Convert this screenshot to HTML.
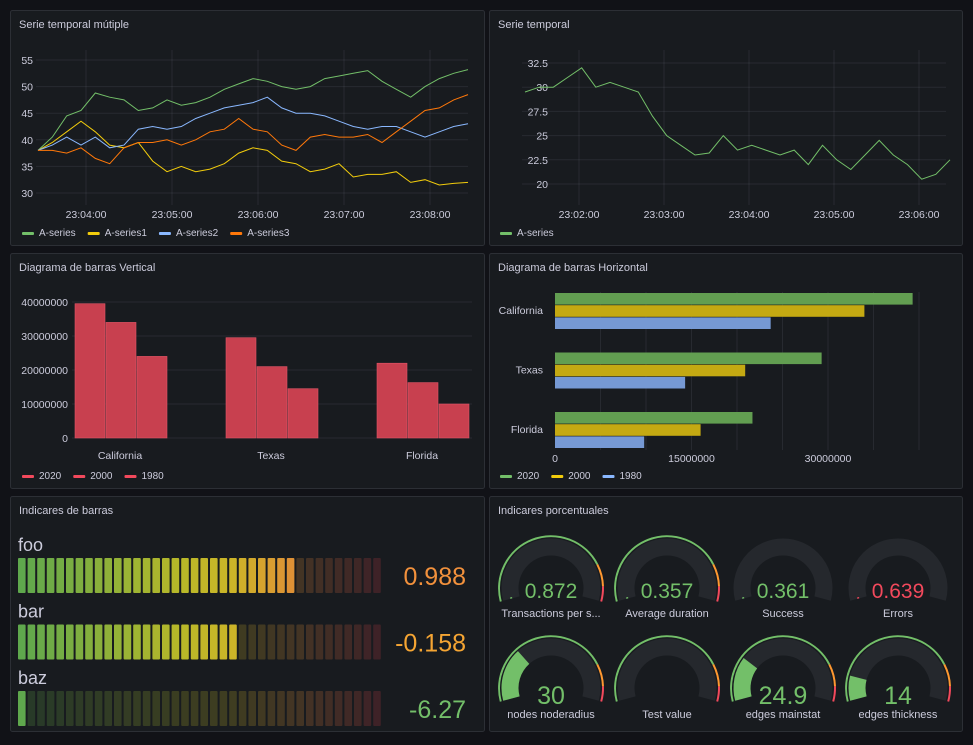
<!DOCTYPE html>
<html><head><meta charset="utf-8"><style>
html,body{margin:0;padding:0;background:#111217;}
svg{display:block;font-family:"Liberation Sans",sans-serif;}
</style></head><body>
<svg id="s" width="973" height="745" viewBox="0 0 973 745"></svg>
<script>
// ---- data ----
const tsTimes = [0,10,20,30,40,50,60,70,80,90,100,110,120,130,140,150,160,170,180,190,200,210,220,230,240,250,260,270,280,290,300];
const seriesA = [38,40.5,44.5,45.5,48.8,48,47.5,45.5,46,47.5,46.5,47,48,49.5,50.5,51.5,51,50,49.5,50,51.5,52,52.5,53,51,49.5,48,50,51.5,52.5,53.2];
const seriesA1 = [38,39.5,41.5,43.5,41.5,39,38.5,39.5,36,34,35,34,34.5,35.5,37.5,38.5,38,36,35.5,34,34.5,35.5,33,33.5,33.5,34,32,32.5,31.5,31.8,32];
const seriesA2 = [38,39,40.5,39,40.5,38.5,39,42,42.5,42,42.5,44,45,46,46.5,47,48,46,45,45,44.5,43.5,42.5,42,42.5,42.5,41.5,40.5,41.5,42.5,43];
const seriesA3 = [38,38,37.5,38.5,36.5,35.5,38.5,39.5,39.5,40,39,40,41.5,42,44,42,41.5,39,38,40.5,41,40.5,40.5,41,39.5,41.5,43.5,45.5,46,47.5,48.5];
const tsYTicks = [30,35,40,45,50,55];
const tsXTicks = ["23:04:00","23:05:00","23:06:00","23:07:00","23:08:00"];
const st2Values = [29.5,30,30,31,32,30,30.5,30,29.5,27,25,24,23,23.2,25,23.5,24,23.5,23,23.5,22,24,22.5,21.5,23,24.5,23,22,20.5,21,22.5];
const st2YTicks = [20,22.5,25,27.5,30,32.5];
const st2XTicks = ["23:02:00","23:03:00","23:04:00","23:05:00","23:06:00"];
const barCats = ["California","Texas","Florida"];
const bars2020 = [39.5e6,29.5e6,22e6];
const bars2000 = [34e6,21e6,16.3e6];
const bars1980 = [24e6,14.5e6,10e6];
const vbTicks = [0,10000000,20000000,30000000,40000000];
const hb2020 = [39.3e6,29.3e6,21.7e6];
const hb2000 = [34e6,20.9e6,16e6];
const hb1980 = [23.7e6,14.3e6,9.8e6];
const hbTicks = [0,15000000,30000000];
const bgNames = ["foo","bar","baz"];
const bgValues = [0.988,-0.158,-6.27];
const bgLabels = ["0.988","-0.158","-6.27"];
const gNames = ["Transactions per s...","Average duration","Success","Errors","nodes noderadius","Test value","edges mainstat","edges thickness"];
const gValues = [0.872,0.357,0.361,0.639,30,0,24.9,14];
const gLabels = ["0.872","0.357","0.361","0.639","30","","24.9","14"];

const S = document.getElementById('s');
const NS = 'http://www.w3.org/2000/svg';
function mk(tag, attrs, parent, text){
  const e = document.createElementNS(NS, tag);
  for (const k in attrs) e.setAttribute(k, attrs[k]);
  if (text !== undefined) e.textContent = text;
  (parent || S).appendChild(e);
  return e;
}
const TXT = '#ccccdc', GRID = 'rgba(204,204,220,0.09)';

// panels
const panels = [
  [10,10,475,236,'Serie temporal mútiple','panel-multi-timeseries'],
  [489,10,474,236,'Serie temporal','panel-timeseries'],
  [10,253,475,236,'Diagrama de barras Vertical','panel-vertical-bars'],
  [489,253,474,236,'Diagrama de barras Horizontal','panel-horizontal-bars'],
  [10,496,475,236,'Indicares de barras','panel-bar-gauges'],
  [489,496,474,236,'Indicares porcentuales','panel-gauges']];
panels.forEach(p=>{
  const r = mk('rect',{x:p[0]+0.5,y:p[1]+0.5,width:p[2]-1,height:p[3]-1,rx:2,fill:'#181b1f',stroke:'#2c2f35'});
  
  
  const t = mk('text',{x:p[0]+9,y:p[1]+18,fill:TXT,'font-size':11,'font-weight':500},S,p[4]);
  
  
});

function legend(x, y, items){
  let cx = x;
  items.forEach(it=>{
    const g = mk('g',{});
    
    
    mk('rect',{x:cx,y:y-4,width:12,height:3,rx:1,fill:it[1]},g);
    const t = mk('text',{x:cx+17,y:y,fill:TXT,'font-size':10},g,it[0]);
    cx += 17 + t.getComputedTextLength() + 12;
  });
}

// ---- panel 1: multi time series ----
(function(){
  const x0=38, pxPerSec=86/60, xs = t=>x0+t*pxPerSec;
  const ys = v=>193-(v-30)*5.32;
  tsYTicks.forEach(v=>{
    mk('line',{x1:36,x2:468,y1:ys(v),y2:ys(v),stroke:GRID});
    const t=mk('text',{x:33,y:ys(v)+4,fill:TXT,'font-size':10.5,'text-anchor':'end'},S,String(v));
    
    
  });
  tsXTicks.forEach((l,i)=>{
    const x = 86+i*86;
    mk('line',{x1:x,x2:x,y1:50,y2:205,stroke:GRID});
    const t=mk('text',{x:x,y:218,fill:TXT,'font-size':10.5,'text-anchor':'middle'},S,l);
    
    
  });
  const ser = [[seriesA,'#73bf69','a-series'],[seriesA1,'#f2cc0c','a-series1'],[seriesA2,'#8ab8ff','a-series2'],[seriesA3,'#ff780a','a-series3']];
  ser.forEach(s=>{
    const d = s[0].map((v,i)=>(i?'L':'M')+xs(tsTimes[i]).toFixed(1)+','+ys(v).toFixed(1)).join('');
    const p=mk('path',{d:d,fill:'none',stroke:s[1],'stroke-width':1});
    
    
  });
  legend(22,236,[['A-series','#73bf69'],['A-series1','#f2cc0c'],['A-series2','#8ab8ff'],['A-series3','#ff780a']]);
})();

// ---- panel 2: single time series ----
(function(){
  const xs = t=>525+t*85/60;
  const ys = v=>184-(v-20)*9.68;
  st2YTicks.forEach(v=>{
    mk('line',{x1:522,x2:946,y1:ys(v),y2:ys(v),stroke:GRID});
    const t=mk('text',{x:548,y:ys(v)+4,fill:TXT,'font-size':10.5,'text-anchor':'end'},S,String(v));
    
    
  });
  st2XTicks.forEach((l,i)=>{
    const x = 579+i*85;
    mk('line',{x1:x,x2:x,y1:50,y2:205,stroke:GRID});
    const t=mk('text',{x:x,y:218,fill:TXT,'font-size':10.5,'text-anchor':'middle'},S,l);
    
    
  });
  const d = st2Values.map((v,i)=>(i?'L':'M')+xs(tsTimes[i]).toFixed(1)+','+ys(v).toFixed(1)).join('');
  const p=mk('path',{d:d,fill:'none',stroke:'#73bf69','stroke-width':1});
  
  
  legend(500,236,[['A-series','#73bf69']]);
})();

// ---- panel 3: vertical bars ----
(function(){
  const ys = v=>438-v/1e6*3.4;
  vbTicks.forEach(v=>{
    mk('line',{x1:72,x2:472,y1:ys(v),y2:ys(v),stroke:GRID});
    const t=mk('text',{x:68,y:ys(v)+4,fill:TXT,'font-size':10.5,'text-anchor':'end'},S,String(v));
    
    
  });
  const series=[bars2020,bars2000,bars1980];
  barCats.forEach((c,i)=>{
    const cx = 120+i*151;
    series.forEach((s,j)=>{
      const x = cx-45+j*31;
      const r=mk('rect',{x:x,y:ys(s[i]),width:30,height:ys(0)-ys(s[i]),fill:'#c8404f',stroke:'#e05567','stroke-width':0.6});
      
      
    });
    const t=mk('text',{x:cx,y:459,fill:TXT,'font-size':10.5,'text-anchor':'middle'},S,c);
    
    
  });
  legend(22,479,[['2020','#f2495c'],['2000','#f2495c'],['1980','#f2495c']]);
})();

// ---- panel 4: horizontal bars ----
(function(){
  const xs = v=>555+v/1e6*9.1;
  for(let v=5e6; v<=40e6; v+=5e6) mk('line',{x1:xs(v),x2:xs(v),y1:292,y2:450,stroke:GRID});
  hbTicks.forEach(v=>{
    const t=mk('text',{x:xs(v),y:462,fill:TXT,'font-size':10.5,'text-anchor':'middle'},S,String(v));
    
    
  });
  const series=[[hb2020,'#629e51'],[hb2000,'#c4a912'],[hb1980,'#7699d4']];
  barCats.forEach((c,i)=>{
    const gy = 293+i*59.5;
    series.forEach((s,j)=>{
      const r=mk('rect',{x:555,y:gy+j*12.2,width:xs(s[0][i])-555,height:11.6,fill:s[1]});
      
      
    });
    const t=mk('text',{x:543,y:gy+21,fill:TXT,'font-size':10.5,'text-anchor':'end'},S,c);
    
    
  });
  legend(500,479,[['2020','#73bf69'],['2000','#f2cc0c'],['1980','#8ab8ff']]);
})();

// ---- panel 5: bar gauges ----
(function(){
  const N=38, bgMin=-4.55, bgMax=2.7;
  const stops=[[0,[95,168,77]],[0.45,[184,184,40]],[0.6,[205,180,40]],[0.78,[225,140,55]],[1,[200,60,70]]];
  function col(f){
    for(let i=1;i<stops.length;i++) if(f<=stops[i][0]){
      const a=stops[i-1],b=stops[i],t=(f-a[0])/(b[0]-a[0]);
      return a[1].map((c,k)=>Math.round(c+(b[1][k]-c)*t));
    }
    return stops[stops.length-1][1];
  }
  const valCol=['#f2913c','#f5a533','#73bf69'];
  bgNames.forEach((n,r)=>{
    const top = 558+r*66.5;
    const t=mk('text',{x:18,y:top-7,fill:TXT,'font-size':18},S,n);
    
    
    let lit = Math.round((bgValues[r]-bgMin)/(bgMax-bgMin)*N);
    lit = Math.max(1,Math.min(N,lit));
    for(let i=0;i<N;i++){
      const c=col(i/(N-1));
      const on=i<lit;
      const fill = on ? 'rgb('+c.join(',')+')' : 'rgba('+c.join(',')+',0.22)';
      const cell=mk('rect',{x:18+i*9.6,y:top,width:7.6,height:35,rx:1,fill:fill});
      
      
    }
    const v=mk('text',{x:466,y:top+27,fill:valCol[r],'font-size':25,'text-anchor':'end'},S,bgLabels[r]);
    
    
  });
})();

// ---- panel 6: gauges ----
(function(){
  const START=195, SWEEP=210; // degrees, measured clockwise from +x in screen coords reversed
  function pt(cx,cy,r,a){const rad=a*Math.PI/180;return [cx+r*Math.cos(rad),cy-r*Math.sin(rad)];}
  function arc(cx,cy,r,a1,a2){ // a1 > a2, clockwise on screen
    const p1=pt(cx,cy,r,a1),p2=pt(cx,cy,r,a2);
    const large=(a1-a2)>180?1:0;
    return 'M'+p1[0].toFixed(1)+','+p1[1].toFixed(1)+'A'+r+','+r+' 0 '+large+' 1 '+p2[0].toFixed(1)+','+p2[1].toFixed(1);
  }
  const centersX=[551,667,783,898];
  const thresh=[true,true,false,false,true,true,true,true];
  gNames.forEach((n,i)=>{
    const cx=centersX[i%4], cy = i<4?588:688;
    const g=mk('g',{});
    
    
    const aStart=START, aEnd=START-SWEEP;
    mk('path',{d:arc(cx,cy,41,aStart,aEnd),fill:'none',stroke:'#25282d','stroke-width':17},g);
    if(thresh[i]){
      const aO=START-SWEEP*0.8, aR=START-SWEEP*0.92;
      mk('path',{d:arc(cx,cy,52,aStart,aO),fill:'none',stroke:'#73bf69','stroke-width':2},g);
      mk('path',{d:arc(cx,cy,52,aO,aR),fill:'none',stroke:'#ff9830','stroke-width':2},g);
      mk('path',{d:arc(cx,cy,52,aR,aEnd),fill:'none',stroke:'#f2495c','stroke-width':2},g);
    }
    const frac=Math.max(0,Math.min(1,gValues[i]/100));
    const color = i===3?'#f2495c':'#73bf69';
    if(gLabels[i]!==''){
      const aV=START-SWEEP*Math.max(frac,0.01);
      mk('path',{d:arc(cx,cy,41,aStart,aV),fill:'none',stroke:color,'stroke-width':frac>0.02?17:2},g);
      const v=mk('text',{x:cx,y:i<4?598:704,fill:color,'font-size':i<4?21:25,'text-anchor':'middle'},g,gLabels[i]);
      
      
    }
    const l=mk('text',{x:cx,y:i<4?617:718,fill:TXT,'font-size':11,'text-anchor':'middle'},g,n);
    
    
  });
})();
</script>
</body></html>
